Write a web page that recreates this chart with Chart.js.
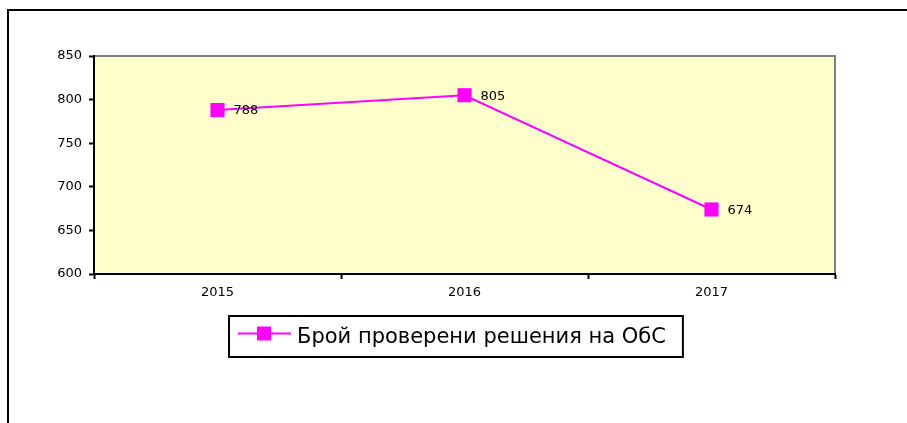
<!DOCTYPE html>
<html>
<head>
<meta charset="utf-8">
<script src="https://cdn.jsdelivr.net/npm/chart.js@4"></script>
<style>
    html, body { margin: 0; padding: 0; background: #fff; overflow: hidden; }
    #wrap { position: relative; width: 907px; height: 423px; }
    #frame {
        position: absolute; left: 7px; top: 9px; width: 1000px; height: 1000px;
        border-left: 2px solid #000; border-top: 2px solid #000;
    }
    canvas { position: absolute; left: 0; top: 0; }
</style>
</head>
<body>
<div id="wrap">
    <div id="frame"></div>
    <canvas id="chart" width="907" height="423"></canvas>
</div>
<script>
const YEARS = ['2015', '2016', '2017'];
const CHECKED = [788, 805, 674];
const SERIES_LABEL = 'Брой проверени решения на ОбС';
const Y_MIN = 600;
const Y_MAX = 850;
const Y_STEP = 50;

const MAGENTA = '#ff00ff';
const PLOT_BG = '#ffffcc';
const FONT = '"DejaVu Sans", Verdana, sans-serif';

// plot background + grey top/right frame, like the old Excel look
const plotArea = {
    id: 'plotArea',
    beforeDraw(chart) {
        const { ctx, chartArea: a } = chart;
        ctx.save();
        ctx.fillStyle = PLOT_BG;
        ctx.fillRect(a.left, a.top, a.right - a.left, a.bottom - a.top);
        ctx.strokeStyle = '#808080';
        ctx.lineWidth = 2;
        ctx.beginPath();
        ctx.moveTo(a.left, a.top);
        ctx.lineTo(a.right, a.top);
        ctx.lineTo(a.right, a.bottom);
        ctx.stroke();
        ctx.restore();
    },
};

// value next to each marker
const valueLabels = {
    id: 'valueLabels',
    afterDatasetsDraw(chart) {
        const { ctx } = chart;
        const meta = chart.getDatasetMeta(0);
        ctx.save();
        ctx.font = '13px ' + FONT;
        ctx.fillStyle = '#000';
        ctx.textBaseline = 'middle';
        meta.data.forEach((pt, i) => {
            ctx.fillText(String(chart.data.datasets[0].data[i]), pt.x + 16, pt.y + 1);
        });
        ctx.restore();
    },
};

// boxed legend below the axis with line + square sample
const boxLegend = {
    id: 'boxLegend',
    afterDraw(chart) {
        const { ctx } = chart;
        const ds = chart.data.datasets[0];
        ctx.save();
        ctx.font = '21px ' + FONT;
        const tw = ctx.measureText(ds.label).width;
        const w = 68 + tw + 17;
        const h = 41;
        const cx = 455.5;
        const x = Math.round(cx - w / 2);
        const y = 316;
        ctx.lineWidth = 2;
        ctx.strokeStyle = '#000';
        ctx.strokeRect(x, y, w, h);
        const my = y + h / 2 - 3;
        ctx.strokeStyle = ds.borderColor;
        ctx.beginPath();
        ctx.moveTo(x + 9, my);
        ctx.lineTo(x + 62, my);
        ctx.stroke();
        ctx.fillStyle = ds.backgroundColor;
        ctx.fillRect(x + 28, my - 7, 14, 14);
        ctx.fillStyle = '#000';
        ctx.textBaseline = 'middle';
        ctx.fillText(ds.label, x + 68, y + h / 2 + 1);
        ctx.restore();
    },
};

new Chart(document.getElementById('chart'), {
    type: 'line',
    data: {
        labels: YEARS,
        datasets: [
            {
                label: SERIES_LABEL,
                data: CHECKED,
                borderColor: MAGENTA,
                backgroundColor: MAGENTA,
                borderWidth: 2,
                pointStyle: 'rect',
                pointRadius: 10,
                pointBorderWidth: 0,
                tension: 0,
            },
        ],
    },
    options: {
        responsive: false,
        animation: false,
        events: [],
        layout: {
            padding: { left: 0, right: 72, top: 56, bottom: 119 },
        },
        plugins: {
            legend: { display: false },
            tooltip: { enabled: false },
        },
        scales: {
            x: {
                offset: true,
                afterFit(scale) { scale.height = 30; },
                grid: {
                    offset: true,
                    drawOnChartArea: false,
                    tickLength: 5,
                    tickColor: '#000',
                    tickWidth: 2,
                },
                border: { color: '#000', width: 2 },
                ticks: {
                    color: '#000',
                    font: { family: FONT, size: 13 },
                    padding: 6,
                    maxRotation: 0,
                },
            },
            y: {
                min: Y_MIN,
                max: Y_MAX,
                afterFit(scale) { scale.width = 94; },
                grid: {
                    drawOnChartArea: false,
                    tickLength: 5,
                    tickColor: '#000',
                    tickWidth: 2,
                },
                border: { color: '#000', width: 2 },
                ticks: {
                    stepSize: Y_STEP,
                    color: '#000',
                    font: { family: FONT, size: 13 },
                    padding: 7,
                },
            },
        },
    },
    plugins: [plotArea, valueLabels, boxLegend],
});
</script>
</body>
</html>
